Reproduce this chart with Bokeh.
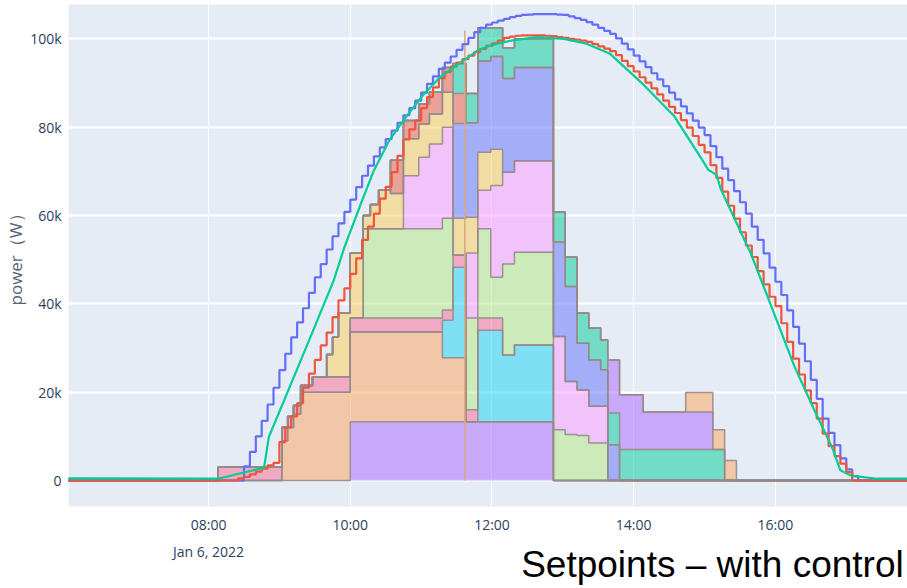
import numpy as np
import pandas as pd
from bokeh.plotting import figure
from bokeh.models import (Range1d, FixedTicker, NumeralTickFormatter, DatetimeAxis,
                          CustomJSTickFormatter)
from bokeh.embed import file_html
from bokeh.resources import INLINE

# ---------------- text / axis data ----------------
DAY = "2022-01-06"
DATE_LABEL = "Jan 6, 2022"
TITLE = "Setpoints – with control"
TITLE_AT = "15:06:40"          # time under which the caption is centred
Y_LABEL = "power（W）"
X_START, X_END = "06:01:24", "17:51:50"
X_TICKS = ["08:00", "10:00", "12:00", "14:00", "16:00"]
Y_TICKS = [0, 20000, 40000, 60000, 80000, 100000]
Y_LIMITS = (-5890, 107770)

# ---------------- stacked setpoints (kW), each value held until the next start ----------------
seg_start = ["06:00", "08:08", "09:02", "09:07", "09:12", "09:18", "09:28", "09:40", "09:45", "09:50",
             "10:00", "10:11", "10:17", "10:24", "10:34", "10:45", "10:58", "11:07", "11:18", "11:27",
             "11:38", "11:48", "11:59", "12:09", "12:19", "12:52", "13:02", "13:12", "13:22", "13:32",
             "13:38", "13:48", "14:08", "14:44", "15:07", "15:17", "15:27"]
sp_purple = [0, 0, 0, 0, 0, 0, 0, 0, 0, 0,
             13.3, 13.3, 13.3, 13.3, 13.3, 13.3, 13.3, 13.3, 13.3, 13.3,
             13.3, 13.3, 13.3, 13.3, 13.3, 0, 0, 0, 0, 0,
             0, 0, 0, 0, 0, 0, 0]
sp_orange = [0, 0, 9, 12, 15, 20, 20, 20, 20, 20,
             20.3, 20.3, 20.3, 20.3, 20.3, 20.3, 20.3, 20.3, 14.5, 14.5,
             0, 0, 0, 0, 0, 0, 0, 0, 0, 0,
             0, 0, 0, 0, 0, 0, 0]
sp_cyan = [0, 0, 0, 0, 0, 0, 0, 0, 0, 0,
           0, 0, 0, 0, 0, 0, 0, 0, 8.5, 20.5,
           0, 20.7, 20.7, 15.1, 17.4, 0, 0, 0, 0, 0,
           0, 0, 0, 0, 0, 0, 0]
sp_pink = [0, 3, 3, 2.5, 2, 1.5, 3.5, 3.5, 3.5, 3.5,
           3.2, 3.2, 3.2, 3.2, 3.2, 3.2, 3.2, 3.2, 2.3, 2.7,
           2.7, 2.8, 2.8, 0, 0, 0, 0, 0, 0, 0,
           0, 0, 0, 0, 0, 0, 0]
sp_lightgreen = [0, 0, 0, 0, 0, 0, 0, 0, 0, 0,
                 0, 20.2, 20.2, 20.2, 20.2, 20.2, 20.2, 20.2, 20.8, 0,
                 20.8, 20.2, 9.2, 20.6, 21.0, 11.5, 10.4, 10.2, 8.5, 8.5,
                 0, 0, 0, 0, 0, 0, 0]
sp_magenta = [0, 0, 0, 0, 0, 0, 0, 0, 0, 0,
              0, 0, 0, 0, 0, 12.0, 16.2, 19.2, 20.6, 0,
              14.7, 8.7, 20.8, 20.8, 20.7, 21.1, 12.0, 10.3, 8.3, 8.3,
              0, 0, 0, 0, 0, 0, 0]
sp_yellow = [0, 0, 0, 0, 0, 0, 0, 5, 9, 14.5,
             14.7, 3, 5.5, 8.7, 8, 8.4, 7.5, 6.8, 7.9, 8.4,
             8.1, 8.6, 8.2, 0, 0, 0, 0, 0, 0, 0,
             0, 0, 0, 0, 0, 0, 0]
sp_blue = [0, 0, 0, 0, 0, 0, 0, 0, 0, 0,
           0, 0, 0, 0, 0, 0, 0, 0, 0, 21.4,
           21.4, 20.7, 21.0, 21.2, 21.1, 21.4, 21.5, 10.6, 10.5, 8.3,
           8.1, 0, 0, 0, 0, 0, 0]
sp_salmon = [0, 0, 0, 0, 0, 0, 0, 0, 0, 0,
             0, 0, 0, 0, 7.5, 4.1, 4.6, 4.9, 5.6, 6.8,
             0, 0, 0, 0, 0, 0, 0, 0, 0, 0,
             0, 0, 0, 0, 0, 0, 0]
sp_teal = [0, 0, 0, 0, 0, 0, 0, 0, 0, 0,
           0, 0, 0, 0, 0, 0, 0, 0, 0, 6.8,
           6.6, 7.5, 6.5, 7.0, 6.5, 6.8, 6.7, 6.8, 7.2, 6.7,
           7.2, 7.0, 7.0, 7.0, 7.0, 0, 0]
sp_purple2 = [0, 0, 0, 0, 0, 0, 0, 0, 0, 0,
              0, 0, 0, 0, 0, 0, 0, 0, 0, 0,
              0, 0, 0, 0, 0, 0, 0, 0, 0, 0,
              12.0, 12.4, 8.5, 8.5, 0, 0, 0]
sp_orange2 = [0, 0, 0, 0, 0, 0, 0, 0, 0, 0,
              0, 0, 0, 0, 0, 0, 0, 0, 0, 0,
              0, 0, 0, 0, 0, 0, 0, 0, 0, 0,
              0, 0, 0, 4.4, 4.5, 4.5, 0]

spike_time = "11:37"
spike_top = 101.9

# ---------------- lines (kW), 5-minute steps from line_start ----------------
line_start = "08:25"
available = [0, 3.2, 6.5, 10.0, 13.5, 17.2, 21.0,
             25.0, 28.7, 32.4, 35.8, 39.0, 42.5, 46.0, 49.0, 52.3, 55.3, 58.2, 60.8,
             63.6, 66.4, 69.0, 71.3, 73.4, 75.4, 77.3, 79.2, 81.0, 82.7, 84.3, 86.0,
             87.8, 89.8, 91.5, 93.2, 94.6, 96.0, 97.5, 98.8, 100.2, 101.5, 102.5, 103.2,
             103.7, 104.1, 104.5, 104.9, 105.2, 105.4, 105.5, 105.6, 105.6, 105.6, 105.6, 105.5,
             105.4, 105.1, 104.7, 104.3, 103.8, 103.2, 102.5, 101.8, 101.1, 100.1, 98.9, 97.6,
             96.2, 94.9, 93.6, 92.2, 90.8, 89.3, 87.8, 86.3, 84.7, 83.1, 81.5, 79.9,
             78.2, 75.7, 73.2, 70.6, 68.0, 65.5, 63.0, 60.4, 57.5, 54.5, 51.4, 48.2,
             45.0, 42.0, 38.5, 34.8, 31.0, 27.0, 22.8, 18.5, 14.0, 10.8, 8.0, 5.0,
             2.5, 1.0, 0]
setpoint_sum = [0.5, 0.8, 1.4, 2.0, 2.7, 3.4, 4.0,
                8.7, 12.0, 14.5, 17.5, 21.0, 24.2, 27.3, 30.6, 33.5, 37.0, 40.8, 43.5,
                46.8, 50.3, 54.5, 57.5, 60.4, 63.8, 66.5, 69.8, 73.5, 77.2, 79.5, 81.5,
                84.3, 86.8, 89.0, 91.1, 92.5, 93.7, 94.6, 95.4, 96.2, 97.0, 97.7, 98.4,
                99.0, 99.6, 100.2, 100.5, 100.7, 100.8, 100.8, 100.8, 100.8, 100.7, 100.6, 100.4,
                100.2, 100.0, 99.8, 99.6, 99.3, 98.8, 98.3, 97.8, 97.2, 96.3, 95.0, 93.8,
                92.6, 91.3, 90.1, 88.8, 87.4, 86.0, 84.6, 83.2, 81.6, 79.9, 78.0, 76.0,
                74.3, 71.4, 68.5, 65.4, 62.2, 59.3, 56.2, 53.2, 50.6, 47.4, 44.4, 41.6,
                39.5, 35.6, 31.4, 27.6, 24.0, 20.4, 17.5, 14.0, 10.6, 7.8, 5.5, 3.8,
                1.9, 0.0]
measured_t = ["06:00", "08:08", "08:47", "08:51", "09:00", "09:15", "09:30", "09:46", "09:55", "10:09",
              "10:20", "10:33", "10:48", "11:02", "11:16", "11:36", "11:48", "12:00", "12:16", "12:38",
              "13:01", "13:20", "13:40", "14:06", "14:34", "14:58", "15:03", "15:10", "15:14", "15:39",
              "15:55", "16:16", "16:33", "16:48", "16:55", "17:04", "17:26", "17:52"]
measured = [0.5, 0.4, 2.9, 9.8, 15.6, 25.2, 34.9, 45.3, 52.8, 62.7,
            70.2, 77.0, 82.6, 87.4, 91.3, 95.1, 97.4, 98.6, 99.6, 100.4,
            100.0, 98.9, 96.6, 90.2, 82.6, 72.6, 70.4, 69.2, 65.8, 51.5,
            40.5, 25.9, 15.9, 7.5, 2.3, 1.1, 0.4, 0.4]

# ---------------- styling ----------------
BG = "#E5ECF6"
OUTLINE = "#958a8a"
TICK_FONT = "Open Sans"
TICK_COLOR = "#2a3f5f"
stack = [(sp_purple, "#AB63FA"), (sp_orange, "#FFA15A"), (sp_cyan, "#19D3F3"),
         (sp_pink, "#FF6692"), (sp_lightgreen, "#B6E880"), (sp_magenta, "#FF97FF"),
         (sp_yellow, "#FECB52"), (sp_blue, "#636EFA"), (sp_salmon, "#EF553B"),
         (sp_teal, "#00CC96"), (sp_purple2, "#AB63FA"), (sp_orange2, "#FFA15A")]


def ts(hm):
    return pd.Timestamp(f"{DAY} {hm}")


def ms(hm):
    return ts(hm).value // 10**6


p = figure(width=907, height=588, x_axis_type="datetime", output_backend="svg",
           toolbar_location=None,
           x_range=Range1d(ms(X_START), ms(X_END)), y_range=Range1d(*Y_LIMITS),
           min_border_left=68, min_border_right=0, min_border_top=4, min_border_bottom=82,
           background_fill_color=BG, border_fill_color="white", outline_line_color=None)

# stacked step areas
t_seg = pd.DatetimeIndex([ts(s) for s in seg_start] + [ts(X_END)])
base = np.zeros(len(seg_start))
tops = []
for vals, color in stack:
    top = base + np.array(vals, dtype=float) * 1000
    y1 = np.append(base, base[-1])
    y2 = np.append(top, top[-1])
    p.varea_step(x=t_seg, y1=y1, y2=y2, step_mode="after", fill_color=color, fill_alpha=0.5)
    tops.append(y2)
    base = top
for y2 in tops:
    p.step(t_seg, y2, mode="after", line_color=OUTLINE, line_width=1.5, line_alpha=0.9)

p.segment(x0=[ts(spike_time)], y0=[0], x1=[ts(spike_time)], y1=[spike_top * 1000],
          line_color="#dca77c", line_width=1.5)

# lines
t0 = ts(line_start)
t_av = pd.DatetimeIndex([ts("06:00")] + list(pd.date_range(t0, periods=len(available), freq="5min")) + [ts(X_END)])
y_av = np.array([0] + available + [0], dtype=float) * 1000
t_sp = pd.DatetimeIndex([ts("06:00")] + list(pd.date_range(t0, periods=len(setpoint_sum), freq="5min")) + [ts(X_END)])
y_sp = np.array([0] + setpoint_sum + [0], dtype=float) * 1000
t_me = pd.DatetimeIndex([ts(s) for s in measured_t])
y_me = np.array(measured, dtype=float) * 1000

p.step(t_av, y_av, mode="after", line_color="#636EFA", line_width=2.2)
p.step(t_sp, y_sp, mode="after", line_color="#EF553B", line_width=2.2)
p.line(t_me, y_me, line_color="#00CC96", line_width=2.2)

# axes
hm_fmt = CustomJSTickFormatter(code="""
const d = new Date(tick);
const h = String(d.getUTCHours()).padStart(2, '0');
const m = String(d.getUTCMinutes()).padStart(2, '0');
return h + ':' + m;
""")
x_ticker = FixedTicker(ticks=[ms(t) for t in X_TICKS], minor_ticks=[])
xa = p.xaxis[0]
xa.ticker = x_ticker
xa.formatter = hm_fmt
xa.axis_line_color = None
xa.major_tick_line_color = None
xa.minor_tick_line_color = None
xa.major_label_standoff = 2
xa.major_label_text_font = TICK_FONT
xa.major_label_text_font_size = "14px"
xa.major_label_text_color = TICK_COLOR

da = DatetimeAxis(ticker=FixedTicker(ticks=[ms(X_TICKS[0])], minor_ticks=[]),
                  formatter=CustomJSTickFormatter(args=dict(txt=DATE_LABEL), code="return txt;"),
                  axis_line_color=None, major_tick_line_color=None, minor_tick_line_color=None,
                  major_label_standoff=-1, major_label_text_font=TICK_FONT,
                  major_label_text_font_size="14px", major_label_text_color=TICK_COLOR)
p.add_layout(da, "below")

ta = DatetimeAxis(ticker=FixedTicker(ticks=[ms(TITLE_AT)], minor_ticks=[]),
                  formatter=CustomJSTickFormatter(args=dict(txt=TITLE), code="return txt;"),
                  axis_line_color=None, major_tick_line_color=None, minor_tick_line_color=None,
                  major_label_standoff=-26, major_label_text_font="Liberation Sans",
                  major_label_text_font_size="37px", major_label_text_color="black")
p.add_layout(ta, "below")

y_ticker = FixedTicker(ticks=Y_TICKS, minor_ticks=[])
ya = p.yaxis[0]
ya.ticker = y_ticker
ya.formatter = NumeralTickFormatter(format="0a")
ya.axis_line_color = None
ya.major_tick_line_color = None
ya.minor_tick_line_color = None
ya.major_label_standoff = 1
ya.major_label_text_font = TICK_FONT
ya.major_label_text_font_size = "14px"
ya.major_label_text_color = TICK_COLOR
ya.axis_label = Y_LABEL
ya.axis_label_text_font = "Open Sans"
ya.axis_label_text_font_style = "normal"
ya.axis_label_text_font_size = "17px"
ya.axis_label_text_color = "#55657d"
ya.axis_label_standoff = 0

p.xgrid.ticker = x_ticker
p.ygrid.ticker = y_ticker
p.xgrid.grid_line_color = "white"
p.xgrid.grid_line_width = 1
p.ygrid.grid_line_color = "white"
p.ygrid.grid_line_width = 2

open("out.html", "w").write(file_html(p, INLINE))
